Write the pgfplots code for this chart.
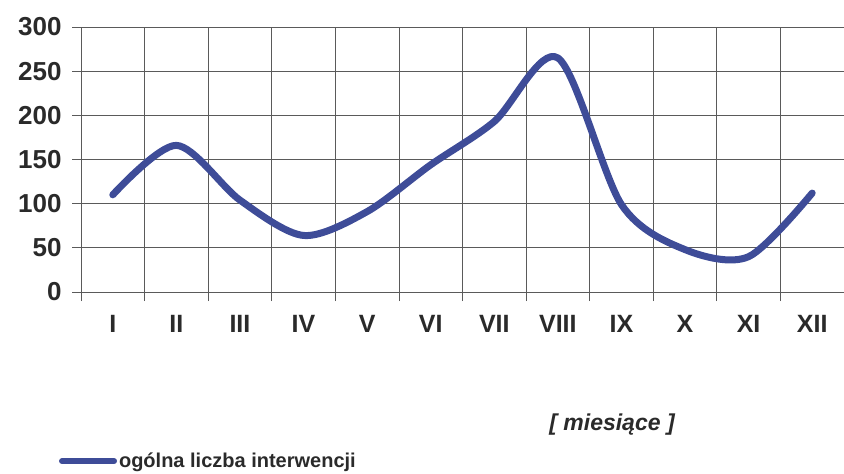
\documentclass[border=0pt]{standalone}
\usepackage{pgfplots}
\pgfplotsset{compat=1.18}
\usepackage{fontspec}
\setmainfont{Liberation Sans}
\definecolor{lineblue}{HTML}{3E4C98}
\definecolor{gridc}{HTML}{5A5A5A}
\definecolor{txt}{HTML}{2A2A2A}
\begin{document}
\begin{tikzpicture}[x=1pt,y=1pt]
\useasboundingbox (-81,-182) rectangle (763,292);
\begin{axis}[
  at={(0,0)}, anchor=south west,
  scale only axis, width=763pt, height=265pt,
  xmin=0.5, xmax=12.5, ymin=0, ymax=300,
  axis line style={draw=none},
  xtick={1,...,12},
  xticklabels={I,II,III,IV,V,VI,VII,VIII,IX,X,XI,XII},
  major x tick style={draw=none},
  minor xtick={0.5,1.5,...,12.5},
  xminorgrids=true,
  ytick={0,50,...,300},
  ymajorgrids=true,
  tick align=outside,
  xtick pos=bottom, ytick pos=left,
  major tick length=9pt, minor tick length=9pt,
  grid style={gridc, line width=0.7pt},
  tick style={gridc, line width=0.7pt},
  xticklabel style={font=\fontsize{25}{25}\selectfont\bfseries, text=txt, yshift=-11pt},
  yticklabel style={font=\fontsize{26}{26}\selectfont\bfseries, text=txt, xshift=-7pt},
  /pgf/number format/assume math mode=true,
  xlabel={[ miesiące ]},
  xlabel style={at={(axis description cs:0.696,-0.502)}, anchor=center,
    font=\fontsize{23}{23}\selectfont\bfseries\itshape, text=txt},
  legend style={at={(axis description cs:-0.0288,-0.638)}, anchor=west,
    inner sep=0pt, outer sep=0pt, draw=none, fill=none,
    font=\fontsize{20}{20}\selectfont\bfseries, text=txt,
    nodes={inner sep=2pt}},
  legend cell align=left,
  legend image code/.code={\draw[#1, line width=6pt, line cap=round] (3pt,0pt) -- (55pt,0pt);},
  clip=false,
]
\addplot[lineblue, line width=7pt, line cap=round, line join=round, smooth, tension=0.5]
  coordinates {(1,110) (2,166) (3,104) (4,64) (5,91) (6,144) (7,193) (8,265) (9,99) (10,48) (11,40) (12,112)};
\addlegendentry{ogólna liczba interwencji}
\end{axis}
\end{tikzpicture}
\end{document}
